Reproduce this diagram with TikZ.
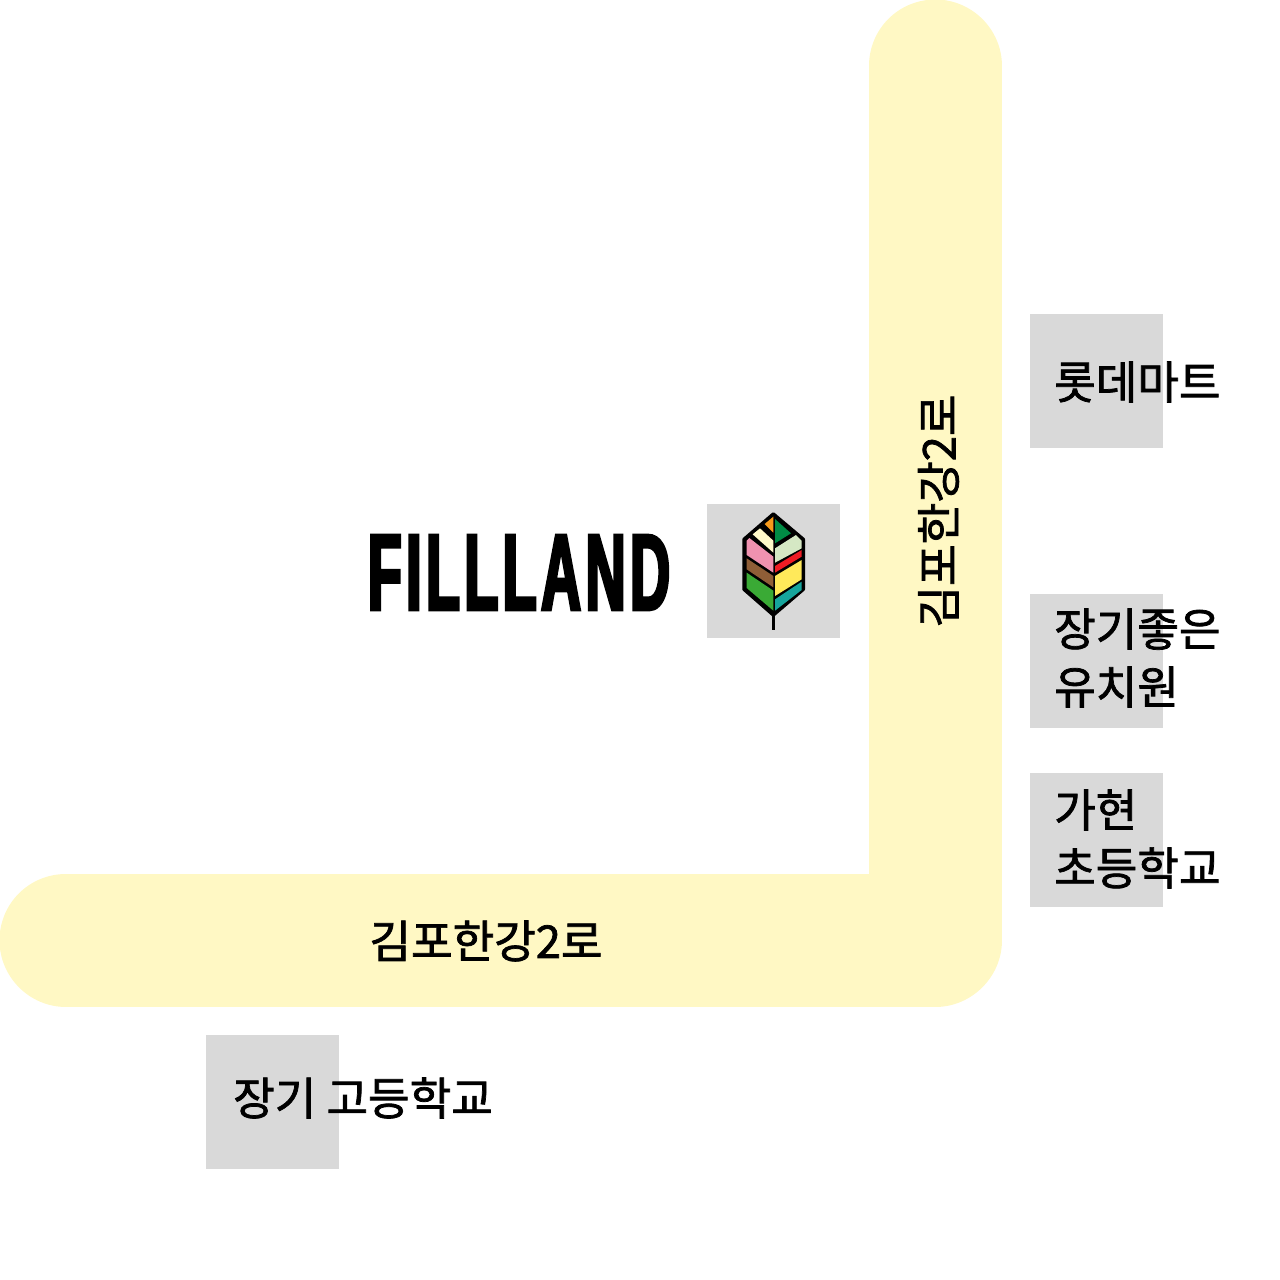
\documentclass[tikz,border=0pt]{standalone}
\usepackage{fontspec}
\newfontfamily\krfont{Noto Sans CJK KR}[FakeBold=1.6]
\newfontfamily\logofont{Liberation Sans Bold}[FakeBold=2.6,FakeStretch=0.51,LetterSpace=4]
\definecolor{road}{HTML}{FFF8C4}
\definecolor{plot}{HTML}{D9D9D9}
\definecolor{lfa}{HTML}{F59A1B}
\definecolor{lfb}{HTML}{FFF9C9}
\definecolor{lfc}{HTML}{F092B0}
\definecolor{lfd}{HTML}{8F5E37}
\definecolor{lfe}{HTML}{3AAA35}
\definecolor{lff}{HTML}{008C45}
\definecolor{lfg}{HTML}{D5E8C4}
\definecolor{lfh}{HTML}{ED1C24}
\definecolor{lfi}{HTML}{FFE95A}
\definecolor{lfj}{HTML}{16A59C}
\tikzset{
  plotbox/.style={fill=plot,minimum width=133pt,minimum height=133.6pt,inner sep=0pt,outer sep=0pt,anchor=north west},
  lab/.style={font=\krfont\fontsize{45.2}{58}\selectfont,inner sep=0pt,align=left,text=black},
  roadline/.style={draw=road,line width=133pt,line cap=round,line join=round}
}
\begin{document}
\begin{tikzpicture}[x=1pt,y=-1pt]
\useasboundingbox (0,0) rectangle (1280,1280);
\coordinate (rtop) at (935,66);
\coordinate (rcorner) at (935,940);
\coordinate (rleft) at (66,940);
\draw[roadline] (rtop) -- (rcorner) -- (rleft);
\node[plotbox] (lotte) at (1030,314) {};
\node[plotbox] (home) at (707,504.2) {};
\node[plotbox] (kinder) at (1030,594.2) {};
\node[plotbox] (elem) at (1030,773.2) {};
\node[plotbox] (high) at (206,1035) {};
\node[lab,anchor=center] (r1) at (938.5,511) {\rotatebox{90}{김포한강2로}};
\node[lab,anchor=center] (r2) at (486,941) {김포한강2로};
\node[lab,anchor=west] (t1) at (1054,382) {롯데마트};
\node[lab,anchor=west] (t2) at (1054,658) {장기좋은\\유치원};
\node[lab,anchor=west] (t3) at (1054,839) {가현\\초등학교};
\node[lab,anchor=west] (t4) at (233,1098) {장기 고등학교};
\node[anchor=center,inner sep=0pt,font=\logofont\fontsize{109}{109}\selectfont] (logo) at (519,572.5) {FILLLAND};
\begin{scope}[shift={(720,500)},x=0.3333pt,y=-0.3333pt]
 \coordinate (stemtop) at (160,345);
 \coordinate (stemend) at (160,390);
 \draw[black,line width=3.4pt] (stemtop) -- (stemend);
 \filldraw[draw=black,fill=black,line width=3.4pt,line join=round] (160,42) -- (250,118) -- (250,268) -- (160,345) -- (72,268) -- (72,118) -- cycle;
 \fill[lfa] (160,50) -- (134,72) -- (160,98) -- cycle;
 \fill[lfb] (98,103) -- (120,85) -- (160,122) -- (160,158) -- cycle;
 \fill[lfc] (80,122) -- (88,114) -- (160,170) -- (160,218) -- (80,165) -- cycle;
 \fill[lfd] (80,175) -- (160,228) -- (160,262) -- (80,208) -- cycle;
 \fill[lfe] (80,218) -- (160,272) -- (160,332) -- (80,264) -- cycle;
 \fill[lff] (165,57) -- (213,100) -- (165,130) -- cycle;
 \fill[lfg] (165,145) -- (228,105) -- (245,122) -- (245,145) -- (165,188) -- cycle;
 \fill[lfh] (165,198) -- (245,150) -- (245,170) -- (165,218) -- cycle;
 \fill[lfi] (165,228) -- (245,180) -- (245,238) -- (165,288) -- cycle;
 \fill[lfj] (165,298) -- (245,245) -- (245,270) -- (165,332) -- cycle;
\end{scope}
\end{tikzpicture}
\end{document}
